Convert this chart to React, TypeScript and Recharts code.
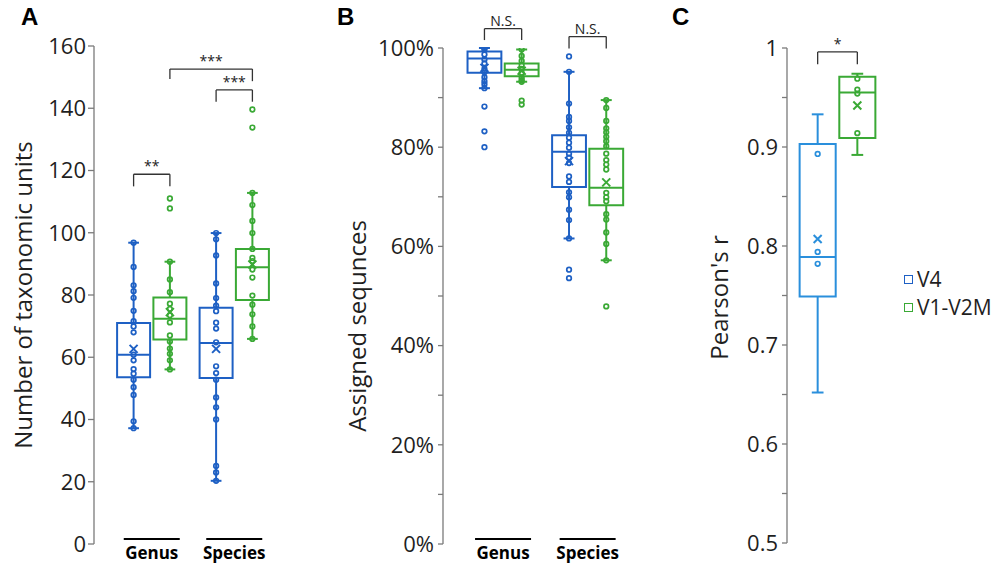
import React from "react";
import {
  ComposedChart,
  Scatter,
  XAxis,
  YAxis,
  ReferenceArea,
  ReferenceLine,
} from "recharts";

const CATEGORIES = ["Genus", "Species"];
const SERIES = ["V4", "V1-V2M"];

// box stats: [min, q1, median, q3, max, mean]
const A_GENUS_V4 = [96.8, 89.0, 83.1, 81.2, 79.1, 74.9, 71.6, 69.9, 68.0, 60.8, 59.0, 56.2, 54.7, 52.8, 50.4, 47.9, 39.4, 37.2];
const A_GENUS_V4_BOX = [37.2, 53.6, 60.8, 71.0, 96.8, 62.7];
const A_GENUS_V1 = [111.0, 107.8, 90.7, 85.0, 80.9, 77.2, 75.5, 73.5, 71.2, 67.0, 65.1, 62.8, 61.1, 59.0, 56.1];
const A_GENUS_V1_BOX = [56.1, 65.7, 72.4, 79.2, 90.7, 74.5];
const A_SPECIES_V4 = [99.9, 97.9, 92.7, 83.7, 79.0, 76.6, 74.8, 71.1, 69.2, 64.8, 57.1, 54.9, 52.8, 47.1, 43.9, 40.0, 25.1, 23.0, 20.3];
const A_SPECIES_V4_BOX = [20.3, 53.3, 64.6, 75.9, 99.9, 62.7];
const A_SPECIES_V1 = [139.6, 133.8, 112.8, 108.9, 103.8, 99.9, 94.8, 91.9, 90.9, 88.2, 85.6, 79.8, 76.9, 73.8, 69.9, 65.9];
const A_SPECIES_V1_BOX = [65.9, 78.4, 88.9, 94.8, 112.8, 89.8];
const A_TICKS = [0, 20, 40, 60, 80, 100, 120, 140, 160];

const B_GENUS_V4 = [100.0, 99.7, 98.7, 97.7, 96.9, 95.8, 95.1, 94.1, 93.3, 92.7, 91.9, 88.2, 83.2, 80.0];
const B_GENUS_V4_BOX = [91.9, 95.0, 97.9, 99.3, 100.0, 96.0];
const B_GENUS_V1 = [99.7, 98.4, 97.4, 96.5, 95.8, 95.0, 94.0, 93.5, 93.2, 89.4, 88.6];
const B_GENUS_V1_BOX = [93.2, 94.3, 95.6, 96.9, 99.7, 95.4];
const B_SPECIES_V4 = [98.3, 95.2, 88.8, 86.1, 85.3, 84.0, 82.9, 81.9, 80.9, 79.9, 78.7, 77.9, 76.8, 74.1, 73.0, 70.9, 69.9, 67.4, 65.3, 61.6, 55.3, 53.6];
const B_SPECIES_V4_BOX = [61.6, 72.0, 79.1, 82.4, 95.2, 77.2];
const B_SPECIES_V1 = [89.5, 87.9, 85.3, 83.8, 83.0, 82.1, 81.2, 80.2, 78.7, 77.4, 76.5, 75.5, 70.8, 69.9, 69.1, 66.5, 65.4, 62.8, 60.5, 57.2, 47.9];
const B_SPECIES_V1_BOX = [57.2, 68.3, 71.8, 79.7, 89.5, 72.9];
const B_TICKS = [0, 10, 20, 30, 40, 50, 60, 70, 80, 90, 100];

const C_V4 = [0.893, 0.794, 0.782];
const C_V4_BOX = [0.652, 0.749, 0.789, 0.903, 0.933, 0.807];
const C_V1 = [0.969, 0.958, 0.954, 0.914];
const C_V1_BOX = [0.892, 0.909, 0.955, 0.971, 0.974, 0.942];
const C_TICKS = [0.5, 0.55, 0.6, 0.65, 0.7, 0.75, 0.8, 0.85, 0.9, 0.95, 1];

const BLUE = "#1e60c4";
const GREEN = "#3aa935";
const LIGHT_BLUE = "#2a8fdc";
const AXIS = "#7a7a7a";
const INK = "#1f1f1f";
const FONT = "'Open Sans', sans-serif";

const OFFSET = 0.22;
const HALF = 0.2;
const CAP = 0.065;

type Group = { x: number; pts: number[]; box: number[]; color: string };

const openDot = (color: string) => (p: any) =>
  <circle cx={p.cx} cy={p.cy} r={2.3} fill="none" stroke={color} strokeWidth={1.7} />;

const meanCross = (color: string) => (p: any) => (
  <path
    d={`M${p.cx - 4},${p.cy - 4}L${p.cx + 4},${p.cy + 4}M${p.cx - 4},${p.cy + 4}L${p.cx + 4},${p.cy - 4}`}
    stroke={color}
    strokeWidth={2}
    fill="none"
  />
);

function boxMarks(key: string, g: Group) {
  const [lo, q1, med, q3, hi] = g.box;
  const x = g.x;
  const s = { stroke: g.color, strokeWidth: 2 };
  return [
    <ReferenceArea key={key + "box"} x1={x - HALF} x2={x + HALF} y1={q1} y2={q3} fill="none" fillOpacity={0} {...s} />,
    <ReferenceLine key={key + "med"} segment={[{ x: x - HALF, y: med }, { x: x + HALF, y: med }]} {...s} />,
    <ReferenceLine key={key + "wu"} segment={[{ x, y: q3 }, { x, y: hi }]} {...s} />,
    <ReferenceLine key={key + "wl"} segment={[{ x, y: lo }, { x, y: q1 }]} {...s} />,
    <ReferenceLine key={key + "cu"} segment={[{ x: x - CAP, y: hi }, { x: x + CAP, y: hi }]} {...s} />,
    <ReferenceLine key={key + "cl"} segment={[{ x: x - CAP, y: lo }, { x: x + CAP, y: lo }]} {...s} />,
  ];
}

function pointMarks(key: string, g: Group) {
  return [
    <Scatter
      key={key + "pts"}
      data={g.pts.map((v) => ({ x: g.x, y: v }))}
      dataKey="y"
      shape={openDot(g.color)}
      isAnimationActive={false}
    />,
    <Scatter
      key={key + "mean"}
      data={[{ x: g.x, y: g.box[5] }]}
      dataKey="y"
      shape={meanCross(g.color)}
      isAnimationActive={false}
    />,
  ];
}

function bracket(key: string, x1: number, x2: number, top: number, l: number, r: number, text: string) {
  const s = { stroke: "#333", strokeWidth: 1.3, ifOverflow: "visible" as const };
  return [
    <ReferenceLine key={key + "l"} segment={[{ x: x1, y: l }, { x: x1, y: top }]} {...s} />,
    <ReferenceLine key={key + "r"} segment={[{ x: x2, y: r }, { x: x2, y: top }]} {...s} />,
    <ReferenceLine
      key={key + "t"}
      segment={[{ x: x1, y: top }, { x: x2, y: top }]}
      {...s}
      label={{ value: text, position: "top", fill: "#222", fontSize: 14, fontFamily: FONT, offset: 3 }}
    />,
  ];
}

function CategoryTick(props: any) {
  const { x, y, payload } = props;
  const label = CATEGORIES[Math.round(payload.value) - 1];
  return (
    <g>
      <line x1={x - 28} x2={x + 28} y1={y - 7} y2={y - 7} stroke="#000" strokeWidth={2} />
      <text x={x} y={y + 13} textAnchor="middle" fontFamily={FONT} fontWeight={700} fontSize={17} fill="#000">
        {label}
      </text>
    </g>
  );
}

function AxisTitle(props: any) {
  const { viewBox, value, dx, dy } = props;
  const cx = viewBox.x + dx;
  const cy = viewBox.y + viewBox.height / 2 + dy;
  return (
    <text
      x={cx}
      y={cy}
      dy="0.35em"
      textAnchor="middle"
      transform={`rotate(-90, ${cx}, ${cy})`}
      fontFamily={FONT}
      fontSize={24}
      fill={INK}
    >
      {value}
    </text>
  );
}

const tickStyle = { fill: INK, fontSize: 22, fontFamily: FONT };

function PanelA() {
  const groups: Group[] = [
    { x: 1 - OFFSET, pts: A_GENUS_V4, box: A_GENUS_V4_BOX, color: BLUE },
    { x: 1 + OFFSET, pts: A_GENUS_V1, box: A_GENUS_V1_BOX, color: GREEN },
    { x: 2 - OFFSET, pts: A_SPECIES_V4, box: A_SPECIES_V4_BOX, color: BLUE },
    { x: 2 + OFFSET, pts: A_SPECIES_V1, box: A_SPECIES_V1_BOX, color: GREEN },
  ];
  return (
    <ComposedChart width={292} height={564} margin={{ top: 46, right: 0, bottom: 0, left: 0 }}>
      <XAxis
        type="number"
        dataKey="x"
        domain={[0.3, 2.7]}
        allowDataOverflow
        ticks={[1, 2]}
        tick={<CategoryTick />}
        axisLine={false}
        tickLine={false}
        tickSize={0}
        height={20}
      />
      <YAxis
        type="number"
        dataKey="y"
        domain={[0, 160]}
        allowDataOverflow
        ticks={A_TICKS}
        width={94}
        stroke={AXIS}
        strokeWidth={1.3}
        tick={tickStyle}
        label={<AxisTitle value="Number of taxonomic units" dx={24} dy={0} />}
      />
      {groups.flatMap((g, i) => boxMarks("a" + i, g))}
      {groups.flatMap((g, i) => pointMarks("a" + i, g))}
      {bracket("s1", 1 - OFFSET, 1 + OFFSET, 118.8, 114.9, 114.9, "**")}
      {bracket("s2", 1 + OFFSET, 2 + OFFSET, 152.6, 149.4, 148.7, "***")}
      {bracket("s3", 2 - OFFSET, 2 + OFFSET, 145.9, 142.1, 142.1, "***")}
    </ComposedChart>
  );
}

function PanelB() {
  const groups: Group[] = [
    { x: 1 - OFFSET, pts: B_GENUS_V4, box: B_GENUS_V4_BOX, color: BLUE },
    { x: 1 + OFFSET, pts: B_GENUS_V1, box: B_GENUS_V1_BOX, color: GREEN },
    { x: 2 - OFFSET, pts: B_SPECIES_V4, box: B_SPECIES_V4_BOX, color: BLUE },
    { x: 2 + OFFSET, pts: B_SPECIES_V1, box: B_SPECIES_V1_BOX, color: GREEN },
  ];
  return (
    <ComposedChart width={316} height={564} margin={{ top: 48, right: 0, bottom: 0, left: 0 }}>
      <XAxis
        type="number"
        dataKey="x"
        domain={[0.29, 2.69]}
        allowDataOverflow
        ticks={[1, 2]}
        tick={<CategoryTick />}
        axisLine={false}
        tickLine={false}
        tickSize={0}
        height={20}
      />
      <YAxis
        type="number"
        dataKey="y"
        domain={[0, 100]}
        allowDataOverflow
        ticks={B_TICKS}
        tickFormatter={(v: number) => (v % 20 === 0 ? `${v}%` : "")}
        width={113}
        stroke={AXIS}
        strokeWidth={1.3}
        tickSize={5}
        tickMargin={4}
        tick={tickStyle}
        label={<AxisTitle value="Assigned sequnces" dx={28} dy={30} />}
      />
      {groups.flatMap((g, i) => boxMarks("b" + i, g))}
      {groups.flatMap((g, i) => pointMarks("b" + i, g))}
      {bracket("n1", 1 - OFFSET, 1 + OFFSET, 103.9, 101.6, 101.6, "N.S.")}
      {bracket("n2", 2 - OFFSET, 2 + OFFSET, 102.3, 99.9, 99.9, "N.S.")}
    </ComposedChart>
  );
}

function PanelC() {
  const groups: Group[] = [
    { x: 1 - OFFSET, pts: C_V4, box: C_V4_BOX, color: LIGHT_BLUE },
    { x: 1 + OFFSET, pts: C_V1, box: C_V1_BOX, color: GREEN },
  ];
  return (
    <ComposedChart width={208} height={564} margin={{ top: 48, right: 0, bottom: 21, left: 0 }}>
      <XAxis type="number" dataKey="x" domain={[0.44, 1.56]} allowDataOverflow hide />
      <YAxis
        type="number"
        dataKey="y"
        domain={[0.5, 1]}
        allowDataOverflow
        ticks={C_TICKS}
        tickFormatter={(v: number) => (Math.round(v * 100) % 10 === 0 ? String(v) : "")}
        width={107}
        stroke={AXIS}
        strokeWidth={1.3}
        tickSize={5}
        tickMargin={4}
        tick={tickStyle}
        label={<AxisTitle value="Pearson's r" dx={40} dy={2} />}
      />
      {groups.flatMap((g, i) => boxMarks("c" + i, g))}
      {groups.flatMap((g, i) => pointMarks("c" + i, g))}
      {bracket("c1", 1 - OFFSET, 1 + OFFSET, 0.996, 0.9835, 0.9835, "*")}
    </ComposedChart>
  );
}

const letterStyle: React.CSSProperties = {
  position: "absolute",
  top: 3,
  fontFamily: "'Liberation Sans', Arial, sans-serif",
  fontWeight: 700,
  fontSize: 24,
  color: "#000",
};

export default function App() {
  const legendColors = [BLUE, GREEN];
  return (
    <div style={{ position: "absolute", left: 0, top: 0, width: 1002, height: 564, background: "#fff", overflow: "hidden" }}>
      <div style={{ position: "absolute", left: 0, top: 0 }}>
        <PanelA />
      </div>
      <div style={{ position: "absolute", left: 330, top: 0 }}>
        <PanelB />
      </div>
      <div style={{ position: "absolute", left: 680, top: 0 }}>
        <PanelC />
      </div>
      <div style={{ ...letterStyle, left: 21 }}>A</div>
      <div style={{ ...letterStyle, left: 337 }}>B</div>
      <div style={{ ...letterStyle, left: 672 }}>C</div>
      {SERIES.map((s, i) => (
        <div
          key={s}
          style={{
            position: "absolute",
            left: 904,
            top: 265 + i * 28,
            display: "flex",
            alignItems: "center",
            fontFamily: FONT,
            fontSize: 21,
            color: INK,
            lineHeight: "28px",
          }}
        >
          <span
            style={{
              display: "inline-block",
              width: 7,
              height: 7,
              border: `1.5px solid ${legendColors[i]}`,
              marginRight: 4,
            }}
          />
          {s}
        </div>
      ))}
    </div>
  );
}
